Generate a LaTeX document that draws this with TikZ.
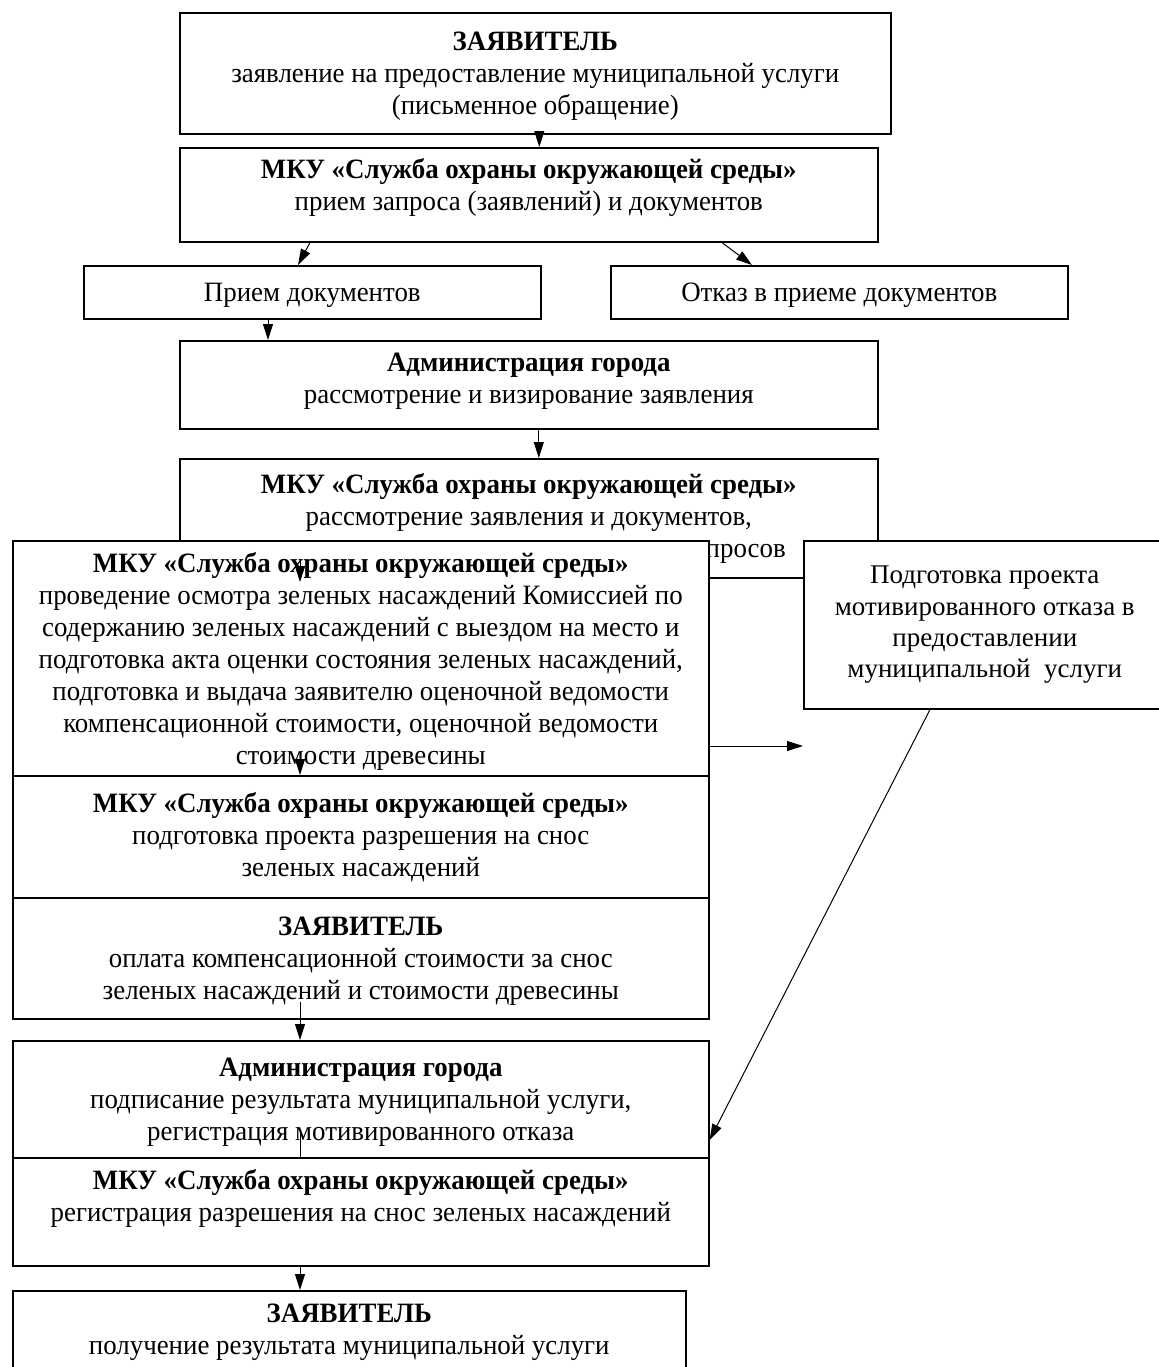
\documentclass[tikz,border=0pt]{standalone}
\usepackage{fontspec}
\setmainfont{Liberation Serif}
\newfontfamily\narrowserif[FakeStretch=0.96]{Liberation Serif}
\usetikzlibrary{arrows.meta}
\tikzset{
  blk/.style={draw,line width=.8pt,fill=white,anchor=north west,align=center,inner sep=0pt,
    font=\narrowserif\fontsize{14}{16}\selectfont},
  arr/.style={line width=.5pt,-{Triangle[length=8pt,width=5pt]}}
}
\begin{document}
\begin{tikzpicture}[x=.5pt,y=-.5pt]
\useasboundingbox (0,0) rectangle (1158,1367);
\node[blk,minimum width=355.5pt,minimum height=60.5pt,text depth=-4pt] (zayav1) at (179,12)
  {\textbf{ЗАЯВИТЕЛЬ}\\заявление на предоставление муниципальной услуги\\(письменное обращение)};
\node[blk,minimum width=349pt,minimum height=47pt,text depth=10pt] (mku1) at (179,147)
  {\textbf{МКУ «Служба охраны окружающей среды»}\\прием запроса (заявлений) и документов};
\node[blk,minimum width=228.5pt,minimum height=26.5pt,text depth=0pt] (priem) at (83,265) {Прием документов};
\node[blk,minimum width=228.5pt,minimum height=26.5pt,text depth=0pt] (otk1) at (610,265) {Отказ в приеме документов};
\node[blk,minimum width=349pt,minimum height=44pt,text depth=7pt] (adm1) at (179,340)
  {\textbf{Администрация города}\\рассмотрение и визирование заявления};
\node[blk,minimum width=349pt,minimum height=59.5pt] (mku2) at (179,458)
  {\textbf{МКУ «Служба охраны окружающей среды»}\\рассмотрение заявления и документов,\\осуществление межведомственных запросов};
\node[blk,minimum width=348pt,minimum height=117.5pt,text depth=-7pt] (osm) at (12,540)
  {\textbf{МКУ «Служба охраны окружающей среды»}\\проведение осмотра зеленых насаждений Комиссией по\\содержанию зеленых насаждений с выездом на место и\\подготовка акта оценки состояния зеленых насаждений,\\подготовка и выдача заявителю оценочной ведомости\\компенсационной стоимости, оценочной ведомости\\стоимости древесины};
\node[blk,minimum width=181pt,minimum height=84pt,font=\fontsize{13.5}{15.7}\selectfont] (otk2) at (803,540)
  {Подготовка проекта\\мотивированного отказа в\\предоставлении\\муниципальной\ \ услуги};
\node[blk,minimum width=348pt,minimum height=61pt] (proj) at (12,775)
  {\textbf{МКУ «Служба охраны окружающей среды»}\\подготовка проекта разрешения на снос\\зеленых насаждений};
\node[blk,minimum width=348pt,minimum height=60.5pt,text depth=-2pt] (opl) at (12,897)
  {\textbf{ЗАЯВИТЕЛЬ}\\оплата компенсационной стоимости за снос\\зеленых насаждений и стоимости древесины};
\node[blk,minimum width=348pt,minimum height=58.5pt,text depth=0pt] (adm2) at (12,1040)
  {\textbf{Администрация города}\\подписание результата муниципальной услуги,\\регистрация мотивированного отказа};
\node[blk,minimum width=348pt,minimum height=54pt,text depth=0pt] (reg) at (12,1157)
  {\textbf{МКУ «Служба охраны окружающей среды»}\\регистрация разрешения на снос зеленых насаждений\\\strut};
\node[blk,minimum width=336.5pt,minimum height=54pt,text depth=-3pt] (pol) at (12,1290)
  {\textbf{ЗАЯВИТЕЛЬ}\\получение результата муниципальной услуги\\\strut};

\draw[arr] ([xshift=2pt]zayav1.south) -- ([xshift=2pt]zayav1.south |- mku1.north);
\draw[arr] ([xshift=65.5pt]mku1.south west) -- ([xshift=107.5pt]priem.north west);
\draw[arr] ([xshift=271.5pt]mku1.south west) -- ([xshift=71pt]otk1.north west);
\draw[arr] ([xshift=92.5pt]priem.south west) -- ([xshift=92.5pt]priem.south west |- adm1.north);
\draw[arr] ([xshift=5pt]adm1.south) -- ([xshift=5pt]adm1.south |- mku2.north);
\draw[arr] ([shift={(60.5pt,10pt)}]mku2.south west) -- ([shift={(144pt,-21pt)}]osm.north west);
\draw[arr] ([yshift=-103pt]osm.north east) -- ([yshift=-103pt]osm.north east -| otk2.west);
\draw[arr] ([shift={(144pt,9pt)}]osm.south west) -- ([xshift=144pt]proj.north west);
\draw[arr] ([shift={(144pt,9pt)}]opl.south west) -- ([xshift=144pt]opl.south west |- adm2.north);
\draw[arr] ([xshift=63.5pt]otk2.south west) -- ([yshift=-50pt]adm2.north east);
\draw[line width=.5pt] ([shift={(144pt,14.5pt)}]adm2.south west) -- ([xshift=144pt]reg.north west);
\draw[arr] ([xshift=144pt]reg.south west) -- ([xshift=144pt]pol.north west);
\end{tikzpicture}
\end{document}
